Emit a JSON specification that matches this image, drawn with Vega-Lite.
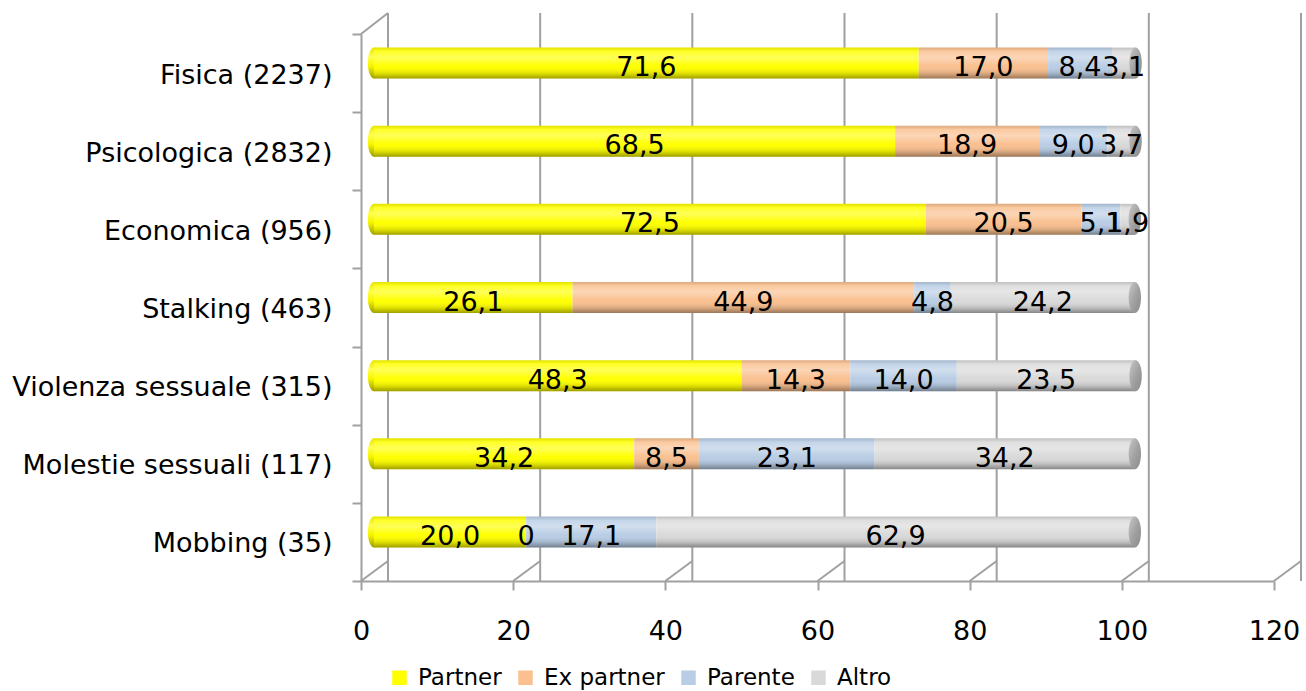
{
  "$schema": "https://vega.github.io/schema/vega-lite/v6.json",
  "width": 913,
  "height": 547,
  "autosize": "none",
  "padding": {"left": 361, "top": 34, "right": 32, "bottom": 110},
  "background": "white",
  "datasets": {
    "shares": [
      {"cat": "Fisica (2237)", "autore": "Partner", "ord": 1, "pct": 71.6},
      {"cat": "Fisica (2237)", "autore": "Ex partner", "ord": 2, "pct": 17.0},
      {"cat": "Fisica (2237)", "autore": "Parente", "ord": 3, "pct": 8.4},
      {"cat": "Fisica (2237)", "autore": "Altro", "ord": 4, "pct": 3.1},
      {"cat": "Psicologica (2832)", "autore": "Partner", "ord": 1, "pct": 68.5},
      {"cat": "Psicologica (2832)", "autore": "Ex partner", "ord": 2, "pct": 18.9},
      {"cat": "Psicologica (2832)", "autore": "Parente", "ord": 3, "pct": 9.0},
      {"cat": "Psicologica (2832)", "autore": "Altro", "ord": 4, "pct": 3.7},
      {"cat": "Economica (956)", "autore": "Partner", "ord": 1, "pct": 72.5},
      {"cat": "Economica (956)", "autore": "Ex partner", "ord": 2, "pct": 20.5},
      {"cat": "Economica (956)", "autore": "Parente", "ord": 3, "pct": 5.1},
      {"cat": "Economica (956)", "autore": "Altro", "ord": 4, "pct": 1.9},
      {"cat": "Stalking (463)", "autore": "Partner", "ord": 1, "pct": 26.1},
      {"cat": "Stalking (463)", "autore": "Ex partner", "ord": 2, "pct": 44.9},
      {"cat": "Stalking (463)", "autore": "Parente", "ord": 3, "pct": 4.8},
      {"cat": "Stalking (463)", "autore": "Altro", "ord": 4, "pct": 24.2},
      {"cat": "Violenza sessuale (315)", "autore": "Partner", "ord": 1, "pct": 48.3},
      {"cat": "Violenza sessuale (315)", "autore": "Ex partner", "ord": 2, "pct": 14.3},
      {"cat": "Violenza sessuale (315)", "autore": "Parente", "ord": 3, "pct": 14.0},
      {"cat": "Violenza sessuale (315)", "autore": "Altro", "ord": 4, "pct": 23.5},
      {"cat": "Molestie sessuali (117)", "autore": "Partner", "ord": 1, "pct": 34.2},
      {"cat": "Molestie sessuali (117)", "autore": "Ex partner", "ord": 2, "pct": 8.5},
      {"cat": "Molestie sessuali (117)", "autore": "Parente", "ord": 3, "pct": 23.1},
      {"cat": "Molestie sessuali (117)", "autore": "Altro", "ord": 4, "pct": 34.2},
      {"cat": "Mobbing (35)", "autore": "Partner", "ord": 1, "pct": 20.0},
      {"cat": "Mobbing (35)", "autore": "Ex partner", "ord": 2, "pct": 0},
      {"cat": "Mobbing (35)", "autore": "Parente", "ord": 3, "pct": 17.1},
      {"cat": "Mobbing (35)", "autore": "Altro", "ord": 4, "pct": 62.9}
    ],
    "ticks": [{"v": 0}, {"v": 20}, {"v": 40}, {"v": 60}, {"v": 80}, {"v": 100}, {"v": 120}]
  },
  "layer": [
    {
      "data": {"name": "ticks"},
      "mark": {"type": "rule", "color": "#A0A0A0", "strokeWidth": 2, "xOffset": 27, "yOffset": -21, "y2Offset": -20},
      "encoding": {
        "x": {"field": "v", "type": "quantitative", "title": null, "scale": {"domain": [0, 120], "nice": false}}
      }
    },
    {
      "data": {"name": "ticks"},
      "mark": {"type": "rule", "color": "#A0A0A0", "strokeWidth": 2, "x2Offset": 27, "y2Offset": -20},
      "encoding": {
        "x": {"field": "v", "type": "quantitative", "title": null},
        "x2": {"field": "v"},
        "y": {"value": "height"},
        "y2": {"value": "height"}
      }
    },
    {
      "data": {"name": "ticks"},
      "transform": [{"filter": "datum.v === 0"}],
      "mark": {"type": "rule", "color": "#A0A0A0", "strokeWidth": 2, "x2Offset": 27, "y2Offset": -21},
      "encoding": {
        "x": {"field": "v", "type": "quantitative", "title": null},
        "x2": {"field": "v"},
        "y": {"value": 0},
        "y2": {"value": 0}
      }
    },
    {
      "data": {"name": "shares"},
      "transform": [
        {"stack": "pct", "groupby": ["cat"], "sort": [{"field": "ord"}], "as": ["x0", "x1"]},
        {"filter": "datum.ord === 1"}
      ],
      "mark": {
        "type": "point",
        "shape": "M0,-1 A0.4,1 0 1,1 0,1 A0.4,1 0 1,1 0,-1 Z",
        "size": 961,
        "filled": true,
        "opacity": 1,
        "xOffset": 13,
        "yOffset": -10,
        "fill": {"gradient": "linear", "x1": 0, "y1": 0, "x2": 0, "y2": 1,
          "stops": [
            {"offset": 0, "color": "#E6E600"},
            {"offset": 0.3, "color": "#FFFF4D"},
            {"offset": 0.6, "color": "#F5F500"},
            {"offset": 1, "color": "#9E9E00"}
          ]}
      },
      "encoding": {
        "x": {"field": "x0", "type": "quantitative", "title": null},
        "y": {"field": "cat", "type": "nominal", "sort": null, "title": null}
      }
    },
    {
      "data": {"name": "shares"},
      "transform": [
        {"stack": "pct", "groupby": ["cat"], "sort": [{"field": "ord"}], "as": ["x0", "x1"]}
      ],
      "mark": {"type": "bar", "height": 31, "xOffset": 13, "x2Offset": 13, "yOffset": -10},
      "encoding": {
        "x": {"field": "x0", "type": "quantitative", "title": null},
        "x2": {"field": "x1"},
        "y": {"field": "cat", "type": "nominal", "sort": null, "title": null},
        "color": {
          "field": "autore",
          "type": "nominal",
          "title": null,
          "scale": {
            "domain": ["Partner", "Ex partner", "Parente", "Altro"],
            "range": ["#FFFF00", "#FAC090", "#B9CDE5", "#D9D9D9"]
          },
          "legend": {
            "orient": "none",
            "direction": "horizontal",
            "legendX": 27,
            "legendY": 632,
            "padding": 0,
            "symbolType": "square",
            "symbolSize": 210,
            "symbolStrokeWidth": 0,
            "labelFontSize": 23,
            "labelFont": "DejaVu Sans",
            "labelColor": "#000000",
            "labelOffset": 7,
            "columnPadding": 12
          }
        }
      }
    },
    {
      "data": {"name": "shares"},
      "transform": [
        {"stack": "pct", "groupby": ["cat"], "sort": [{"field": "ord"}], "as": ["x0", "x1"]}
      ],
      "mark": {
        "type": "bar",
        "height": 31,
        "xOffset": 13,
        "x2Offset": 13,
        "yOffset": -10,
        "fill": {"gradient": "linear", "x1": 0, "y1": 0, "x2": 0, "y2": 1,
          "stops": [
            {"offset": 0, "color": "rgba(0,0,0,0.10)"},
            {"offset": 0.12, "color": "rgba(255,255,255,0.15)"},
            {"offset": 0.32, "color": "rgba(255,255,255,0.35)"},
            {"offset": 0.6, "color": "rgba(255,255,255,0)"},
            {"offset": 0.85, "color": "rgba(0,0,0,0.15)"},
            {"offset": 1, "color": "rgba(0,0,0,0.38)"}
          ]}
      },
      "encoding": {
        "x": {"field": "x0", "type": "quantitative", "title": null},
        "x2": {"field": "x1"},
        "y": {"field": "cat", "type": "nominal", "sort": null, "title": null}
      }
    },
    {
      "data": {"name": "shares"},
      "transform": [
        {"stack": "pct", "groupby": ["cat"], "sort": [{"field": "ord"}], "as": ["x0", "x1"]},
        {"filter": "datum.ord === 4"}
      ],
      "mark": {
        "type": "point",
        "shape": "M0,-1 A0.4,1 0 1,1 0,1 A0.4,1 0 1,1 0,-1 Z",
        "size": 961,
        "filled": true,
        "opacity": 1,
        "xOffset": 13,
        "yOffset": -10,
        "fill": {"gradient": "linear", "x1": 0, "y1": 0, "x2": 1, "y2": 1,
          "stops": [
            {"offset": 0, "color": "#C8C8C8"},
            {"offset": 0.5, "color": "#A2A2A2"},
            {"offset": 1, "color": "#8A8A8A"}
          ]}
      },
      "encoding": {
        "x": {"field": "x1", "type": "quantitative", "title": null},
        "y": {"field": "cat", "type": "nominal", "sort": null, "title": null}
      }
    },
    {
      "data": {"name": "shares"},
      "transform": [
        {"stack": "pct", "groupby": ["cat"], "sort": [{"field": "ord"}], "as": ["x0", "x1"]},
        {"calculate": "(datum.x0 + datum.x1) / 2", "as": "mid"},
        {"calculate": "datum.pct === 0 ? '0' : replace(format(datum.pct, '.1f'), '.', ',')", "as": "etichetta"}
      ],
      "mark": {"type": "text", "font": "DejaVu Sans", "fontSize": 27, "color": "#000000", "xOffset": 13, "yOffset": -5, "baseline": "middle", "align": "center"},
      "encoding": {
        "x": {"field": "mid", "type": "quantitative", "title": null},
        "y": {"field": "cat", "type": "nominal", "sort": null, "title": null},
        "text": {"field": "etichetta"}
      }
    }
  ],
  "config": {
    "view": {"stroke": null},
    "scale": {"bandPaddingInner": 0, "bandPaddingOuter": 0},
    "axisX": {
      "tickCount": 6,
      "grid": false,
      "domainColor": "#A0A0A0",
      "domainWidth": 2,
      "tickColor": "#A0A0A0",
      "tickWidth": 2,
      "tickSize": 9,
      "labelFont": "DejaVu Sans",
      "labelFontSize": 27,
      "labelColor": "#000000",
      "labelPadding": 28,
      "labelFlush": false
    },
    "axisY": {
      "grid": false,
      "domainColor": "#A0A0A0",
      "domainWidth": 2,
      "tickColor": "#A0A0A0",
      "tickWidth": 2,
      "tickSize": 9,
      "tickBand": "extent",
      "labelFont": "DejaVu Sans",
      "labelFontSize": 27,
      "labelColor": "#000000",
      "labelPadding": 20,
      "labelOffset": 2,
      "labelLimit": 400
    }
  }
}
